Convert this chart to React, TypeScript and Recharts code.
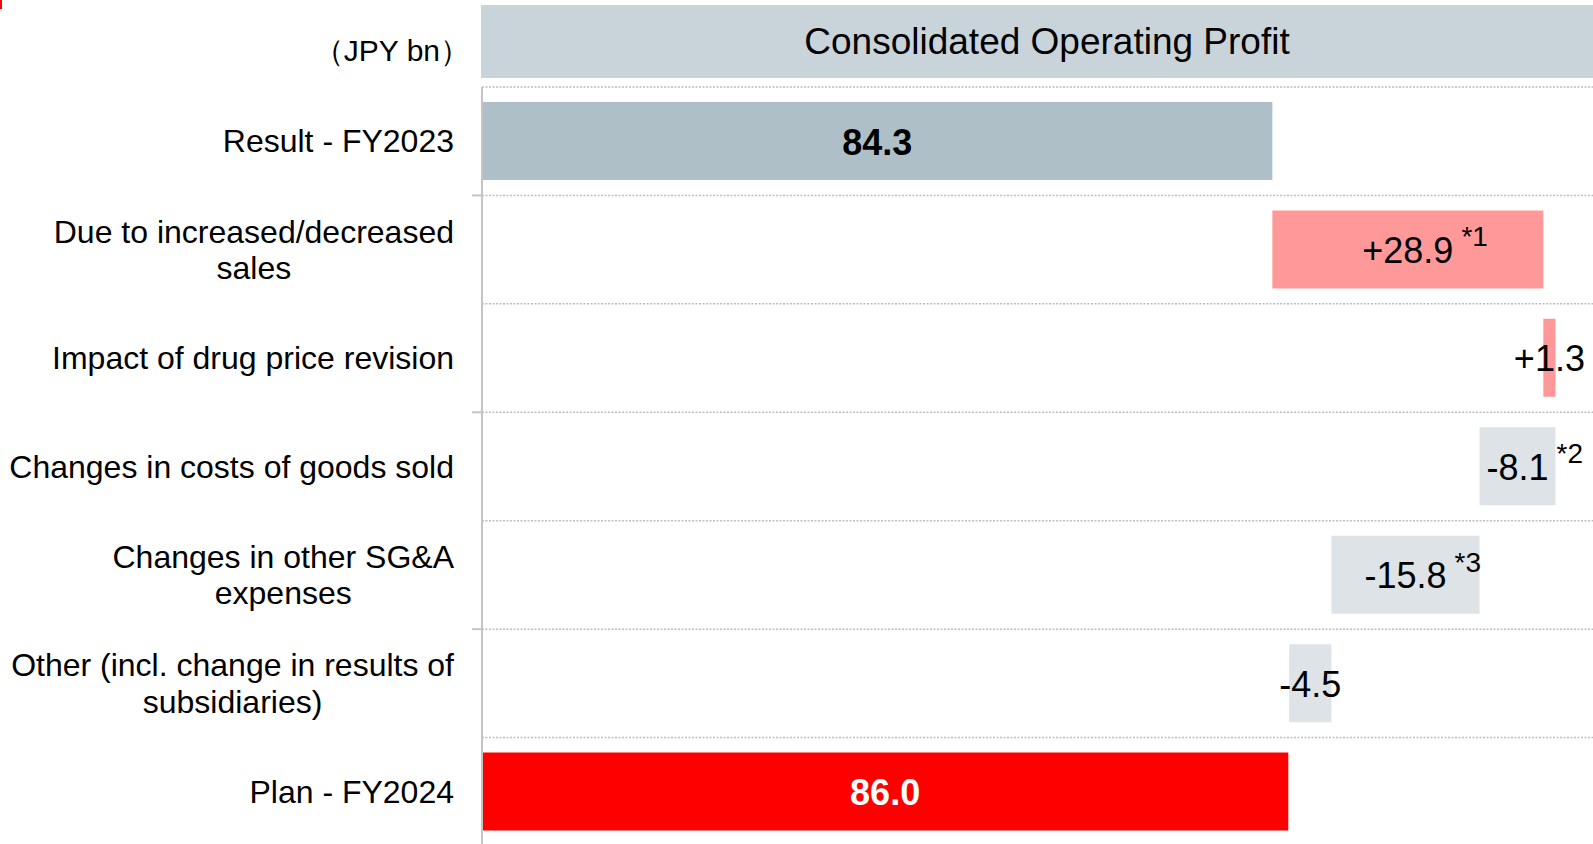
import React from 'react'
import { BarChart, Bar, XAxis, YAxis, CartesianGrid, Cell, LabelList } from 'recharts'

// waterfall: FY2023 result -> FY2024 plan (JPY bn)
const categories = [
  'Result - FY2023',
  'Due to increased/decreased\nsales',
  'Impact of drug price revision',
  'Changes in costs of goods sold',
  'Changes in other SG&A\nexpenses',
  'Other (incl. change in results of\nsubsidiaries)',
  'Plan - FY2024',
]
const values = [84.3, 28.9, 1.3, -8.1, -15.8, -4.5, 86.0]
const valueLabels = ['84.3', '+28.9', '+1.3', '-8.1', '-15.8', '-4.5', '86.0']
const notes = ['', '*1', '', '*2', '*3', '', '']
const kinds = ['start', 'up', 'up', 'down', 'down', 'down', 'end']

const FONT = "'Liberation Sans', Arial, sans-serif"
const W = 1593
const H = 860
const TOP = 87
const BOTTOM = 14
const AXIS_X = 482
const PLOT_H = H - TOP - BOTTOM
const BAND = PLOT_H / categories.length

const colors: Record<string, string> = {
  start: '#aebfc7',
  up: '#ff9999',
  down: '#dee3e7',
  end: '#ff0000',
}

// build stacked rows (invisible offset + visible step)
let running = 0
const data = categories.map((name, i) => {
  const v = values[i]
  let base = 0
  let size = 0
  if (kinds[i] === 'start' || kinds[i] === 'end') {
    base = 0
    size = v
    running = v
  } else if (v >= 0) {
    base = running
    size = v
    running += v
  } else {
    running += v
    base = running
    size = -v
  }
  return { name, base, size }
})

let ctx: CanvasRenderingContext2D | null = null
const measure = (text: string, font: string) => {
  if (!ctx && typeof document !== 'undefined') {
    ctx = document.createElement('canvas').getContext('2d')
  }
  if (!ctx) return text.length * 17
  ctx.font = font
  return ctx.measureText(text).width
}

const CategoryTick = (props: any) => {
  const { x, y, payload, index } = props
  const lines: string[] = String(payload.value).split('\n')
  const lh = 36.5
  const maxW = Math.max(...lines.map((l) => measure(l, `32px ${FONT}`)))
  const cx = x - maxW / 2
  return (
    <g>
      {index % 2 === 1 && (
        <line x1={AXIS_X - 10} x2={AXIS_X} y1={y - BAND / 2} y2={y - BAND / 2} stroke="#c4c4c4" strokeWidth={2} />
      )}
      {lines.map((l, i) => (
        <text
          key={i}
          x={cx}
          y={y + (i - (lines.length - 1) / 2) * lh}
          dy="0.35em"
          textAnchor="middle"
          fontSize={32}
          fontFamily={FONT}
          fill="#000"
        >
          {l}
        </text>
      ))}
    </g>
  )
}

const ValueLabel = (props: any) => {
  const { x, y, width, height, index } = props
  const cx = x + width / 2
  const cy = y + height / 2 + 1
  const kind = kinds[index]
  const bold = kind === 'start' || kind === 'end'
  const txt = valueLabels[index]
  const w = measure(txt, `${bold ? 'bold ' : ''}36px ${FONT}`)
  return (
    <g>
      <text
        x={cx}
        y={cy}
        dy="0.35em"
        textAnchor="middle"
        fontSize={36}
        fontWeight={bold ? 'bold' : 'normal'}
        fontFamily={FONT}
        fill={kind === 'end' ? '#fff' : '#000'}
      >
        {txt}
      </text>
      {notes[index] && (
        <text x={cx + w / 2 + 8} y={cy} dy="0.35em" fontSize={28} fontFamily={FONT} fill="#000">
          <tspan dy="-4">{notes[index]}</tspan>
        </text>
      )}
    </g>
  )
}

export default function App() {
  return (
    <div style={{ position: 'absolute', left: 0, top: 0, width: W, height: 844, overflow: 'hidden', background: '#fff', fontFamily: FONT }}>
      <div style={{ position: 'absolute', left: 0, top: 0, width: 2, height: 9, background: '#ff0000' }} />
      {/* header box */}
      <div
        style={{
          position: 'absolute',
          left: AXIS_X - 1,
          top: 5,
          width: 1132,
          height: 73,
          background: '#c9d4da',
          display: 'flex',
          alignItems: 'center',
          justifyContent: 'center',
          fontSize: 37,
          color: '#000',
        }}
      >
        Consolidated Operating Profit
      </div>
      <div style={{ position: 'absolute', right: W - 470, top: 31, fontSize: 30, color: '#000', whiteSpace: 'nowrap' }}>
        （JPY bn）
      </div>
      <div style={{ position: 'absolute', left: 0, top: 0 }}>
        <BarChart
          width={W}
          height={H}
          data={data}
          layout="vertical"
          margin={{ top: TOP, right: 0, bottom: BOTTOM, left: 0 }}
          barSize={78}
        >
          <CartesianGrid
            vertical={false}
            stroke="#bdbdbd"
            strokeWidth={1.5}
            strokeDasharray="2 1.5"
            horizontalCoordinatesGenerator={({ offset }: any) =>
              categories.map((_, i) => offset.top + (i * offset.height) / categories.length)
            }
          />
          <XAxis type="number" hide domain={[0, 118.5]} />
          <YAxis
            type="category"
            dataKey="name"
            width={AXIS_X}
            axisLine={{ stroke: '#c4c4c4', strokeWidth: 2 }}
            tickLine={false}
            tickSize={0}
            tickMargin={28}
            interval={0}
            tick={<CategoryTick />}
          />
          <Bar dataKey="base" stackId="w" fill="transparent" isAnimationActive={false} />
          <Bar dataKey="size" stackId="w" isAnimationActive={false}>
            {data.map((_, i) => (
              <Cell key={`c-${i}`} fill={colors[kinds[i]]} />
            ))}
            <LabelList dataKey="size" content={<ValueLabel />} />
          </Bar>
        </BarChart>
      </div>
    </div>
  )
}
